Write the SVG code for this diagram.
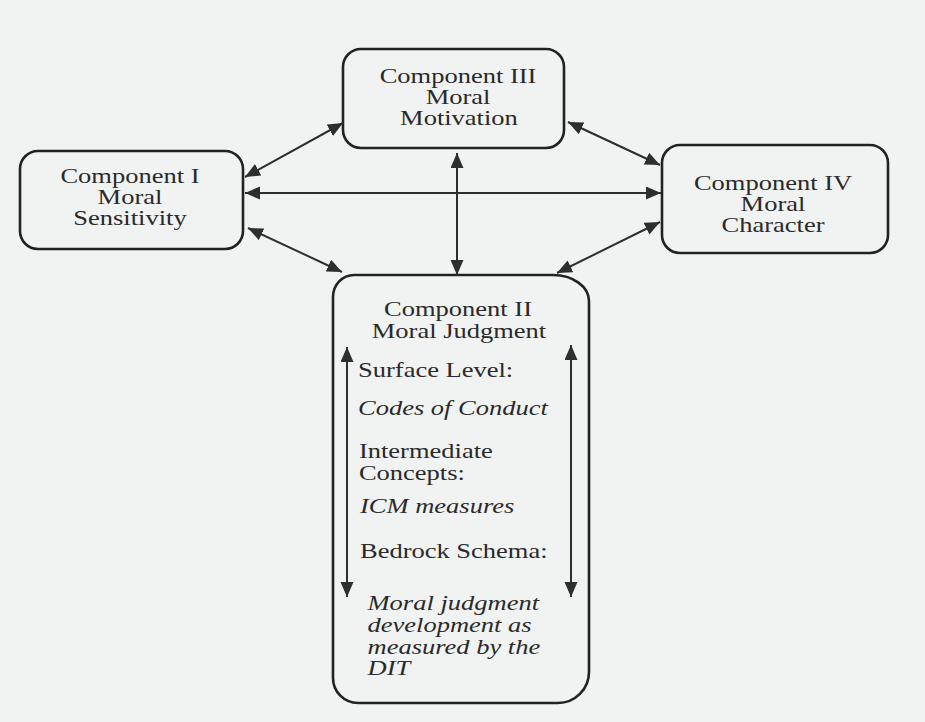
<svg xmlns="http://www.w3.org/2000/svg" width="925" height="722" viewBox="0 0 925 722">
  <style>
    .box { fill: none; stroke: #222; stroke-width: 2.6; }
    .lbl { font-family: "Liberation Serif", "Times New Roman", serif; font-size: 20px; fill: #2a2a2a; }
    .mid { text-anchor: middle; }
    .it { font-style: italic; }
    .conn line { stroke: #2e2e2e; stroke-width: 2; marker-start: url(#ah); marker-end: url(#ah); }
  </style>
  <defs>
    <marker id="ah" markerUnits="userSpaceOnUse" markerWidth="16" markerHeight="14" refX="15" refY="6.5" orient="auto-start-reverse">
      <path d="M0,0 L15,6.5 L0,13 Z" fill="#2e2e2e"/>
    </marker>
  </defs>
  <rect x="0" y="0" width="925" height="722" fill="#f1f2f2"/>

  <g id="component-iii">
    <rect class="box" x="343" y="49" width="221" height="99" rx="18"/>
    <g transform="scale(1.325 1)">
      <text class="lbl mid" x="345.7" y="83">Component III</text>
      <text class="lbl mid" x="345.7" y="104">Moral</text>
      <text class="lbl mid" x="346.4" y="125">Motivation</text>
    </g>
  </g>

  <g id="component-i">
    <rect class="box" x="20" y="151" width="223" height="98" rx="18"/>
    <g transform="scale(1.325 1)">
      <text class="lbl mid" x="98.1" y="183">Component I</text>
      <text class="lbl mid" x="98.1" y="204">Moral</text>
      <text class="lbl mid" x="98.1" y="225">Sensitivity</text>
    </g>
  </g>

  <g id="component-iv">
    <rect class="box" x="662" y="145" width="226" height="108" rx="18"/>
    <g transform="scale(1.325 1)">
      <text class="lbl mid" x="583.4" y="190">Component IV</text>
      <text class="lbl mid" x="583.4" y="211">Moral</text>
      <text class="lbl mid" x="583.4" y="232">Character</text>
    </g>
  </g>

  <g id="component-ii">
    <path class="box" d="M 354,275 H 553 A 36 26 0 0 1 589 301 V 672 A 31 31 0 0 1 558 703 H 358 A 25 25 0 0 1 333 678 V 297 A 21 22 0 0 1 354 275 Z"/>
    <g transform="scale(1.325 1)">
      <text class="lbl mid" x="345.7" y="316">Component II</text>
      <text class="lbl mid" x="346.4" y="338">Moral Judgment</text>
      <text class="lbl" x="270.2" y="377">Surface Level:</text>
      <text class="lbl it" x="270.2" y="415">Codes of Conduct</text>
      <text class="lbl" x="270.9" y="458">Intermediate</text>
      <text class="lbl" x="270.9" y="480">Concepts:</text>
      <text class="lbl it" x="271.7" y="513">ICM measures</text>
      <text class="lbl" x="271.7" y="558">Bedrock Schema:</text>
      <text class="lbl it" x="277.4" y="610">Moral judgment</text>
      <text class="lbl it" x="277.4" y="632">development as</text>
      <text class="lbl it" x="277.4" y="654">measured by the</text>
      <text class="lbl it" x="277.4" y="675">DIT</text>
    </g>
  </g>

  <g id="connectors" class="conn">
    <line x1="245" y1="177" x2="343" y2="123"/>
    <line x1="568" y1="122" x2="660" y2="165"/>
    <line x1="245" y1="193" x2="661" y2="193"/>
    <line x1="457" y1="153" x2="457" y2="275"/>
    <line x1="248" y1="228" x2="342" y2="272"/>
    <line x1="660" y1="222" x2="557" y2="273"/>
    <line x1="347" y1="347" x2="347" y2="597"/>
    <line x1="571" y1="345" x2="571" y2="597"/>
  </g>
</svg>
